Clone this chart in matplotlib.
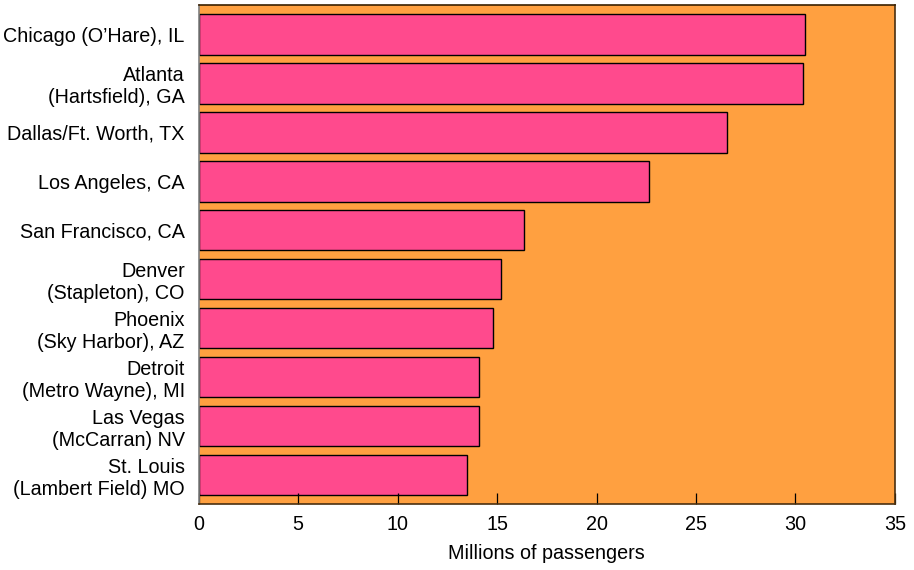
import matplotlib.pyplot as plt

plt.rcParams['font.family'] = ['Liberation Sans', 'DejaVu Sans']

airports = [
    "Chicago (O\u2019Hare), IL",
    "Atlanta\n(Hartsfield), GA",
    "Dallas/Ft. Worth, TX",
    "Los Angeles, CA",
    "San Francisco, CA",
    "Denver\n(Stapleton), CO",
    "Phoenix\n(Sky Harbor), AZ",
    "Detroit\n(Metro Wayne), MI",
    "Las Vegas\n(McCarran) NV",
    "St. Louis\n(Lambert Field) MO",
]
passengers = [30.46, 30.36, 26.58, 22.65, 16.34, 15.22, 14.81, 14.11, 14.11, 13.51]
x_ticks = [0, 5, 10, 15, 20, 25, 30, 35]

fig = plt.figure(figsize=(9.14, 5.7), dpi=100)
ax = fig.add_axes([0.2172, 0.1153, 0.9792 - 0.2172, 0.9912 - 0.1153])
ax.set_facecolor('#FFA040')

y = list(range(len(airports)))
ax.barh(y, passengers, height=0.83, color='#FF4A8D', edgecolor='black', linewidth=1.0)

ax.set_xlim(0, 35)
ax.set_ylim(9.6, -0.6)
ax.set_xticks(x_ticks)
ax.set_yticks(y)
ax.set_yticklabels(airports, fontsize=14.2, multialignment='right', linespacing=1.2)
ax.tick_params(axis='y', length=0, pad=10)
ax.tick_params(axis='x', direction='in', length=8, width=0.9, pad=8, labelsize=14.2)
ax.set_xlabel("Millions of passengers", fontsize=14.2, labelpad=7)

ax.spines['left'].set_color('#808080')
ax.spines['bottom'].set_color('#4a3010')
ax.spines['right'].set_color('#4a3010')
ax.spines['top'].set_color('#3a2000')
for s in ax.spines.values():
    s.set_linewidth(1.2)

fig.savefig("out.png", dpi=100)
